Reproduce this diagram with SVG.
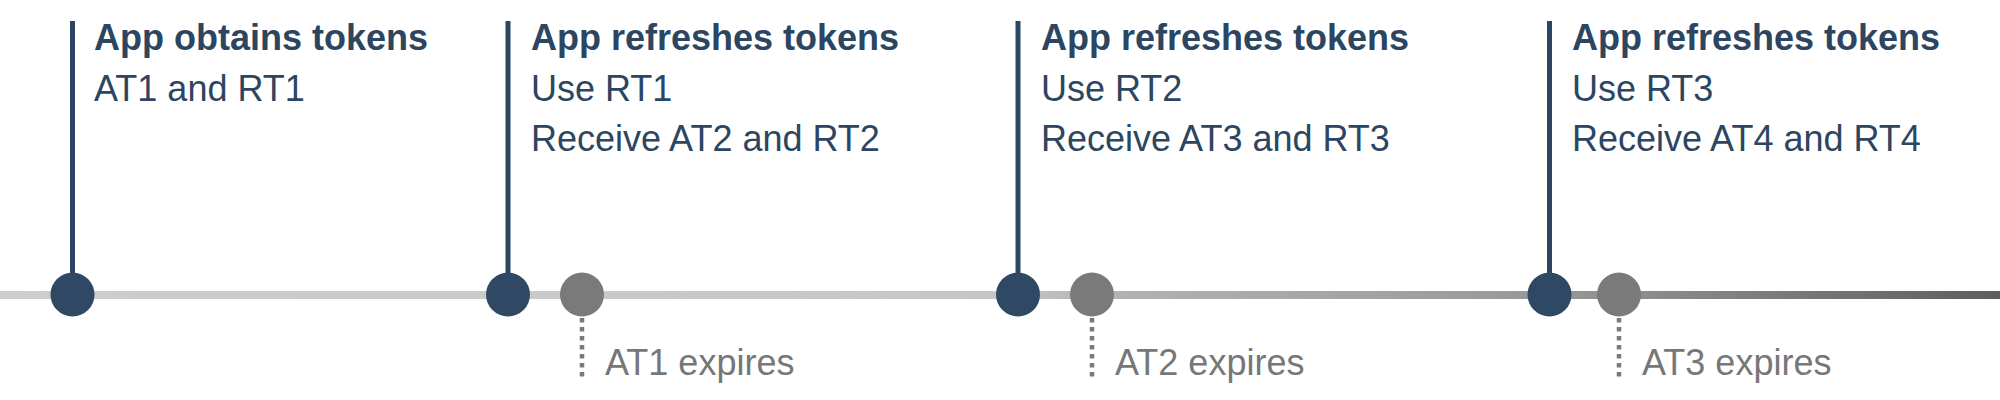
<svg xmlns="http://www.w3.org/2000/svg" width="2000" height="400" viewBox="0 0 2000 400">
  <defs>
    <linearGradient id="axisGrad" x1="0" y1="0" x2="2000" y2="0" gradientUnits="userSpaceOnUse">
      <stop offset="0" stop-color="#cdcdcd"/>
      <stop offset="0.5" stop-color="#c6c6c6"/>
      <stop offset="0.56" stop-color="#b2b2b2"/>
      <stop offset="0.78" stop-color="#979797"/>
      <stop offset="1" stop-color="#5e5e5e"/>
    </linearGradient>
  </defs>
  <style>
    .stem { stroke: #2c4661; stroke-width: 5; fill: none; }
    .dot-dark { fill: #2f4964; }
    .dot-gray { fill: #7a7a7a; }
    .dotted { stroke: #7a7a7a; stroke-width: 4.5; stroke-dasharray: 4.5 4.5; fill: none; }
    .title { font-family: "Liberation Sans", Arial, sans-serif; font-weight: bold; font-size: 36px; fill: #2c4661; }
    .body { font-family: "Liberation Sans", Arial, sans-serif; font-size: 36px; fill: #2c4661; }
    .expire { font-family: "Liberation Sans", Arial, sans-serif; font-size: 36px; fill: #777777; }
  </style>
  <rect width="2000" height="400" fill="#ffffff"/>

  <g id="connectors">
    <line x1="0" y1="295" x2="2000" y2="295" stroke="url(#axisGrad)" stroke-width="8"/>
    <line class="stem" x1="72.5" y1="21" x2="72.5" y2="294"/>
    <line class="stem" x1="508" y1="21" x2="508" y2="294"/>
    <line class="stem" x1="1018" y1="21" x2="1018" y2="294"/>
    <line class="stem" x1="1549.5" y1="21" x2="1549.5" y2="294"/>
    <line class="dotted" x1="582" y1="318" x2="582" y2="377"/>
    <line class="dotted" x1="1092" y1="318" x2="1092" y2="377"/>
    <line class="dotted" x1="1619" y1="318" x2="1619" y2="377"/>
  </g>

  <g id="event-obtain">
    <circle class="dot-dark" cx="72.5" cy="294.5" r="22"/>
    <text class="title" x="94" y="50">App obtains tokens</text>
    <text class="body" x="94" y="100.5">AT1 and RT1</text>
  </g>

  <g id="event-refresh-1">
    <circle class="dot-dark" cx="508" cy="294.5" r="22"/>
    <text class="title" x="531" y="50">App refreshes tokens</text>
    <text class="body" x="531" y="100.5">Use RT1</text>
    <text class="body" x="531" y="151">Receive AT2 and RT2</text>
  </g>

  <g id="expire-1">
    <circle class="dot-gray" cx="582" cy="294.5" r="22"/>
    <text class="expire" x="605" y="375">AT1 expires</text>
  </g>

  <g id="event-refresh-2">
    <circle class="dot-dark" cx="1018" cy="294.5" r="22"/>
    <text class="title" x="1041" y="50">App refreshes tokens</text>
    <text class="body" x="1041" y="100.5">Use RT2</text>
    <text class="body" x="1041" y="151">Receive AT3 and RT3</text>
  </g>

  <g id="expire-2">
    <circle class="dot-gray" cx="1092" cy="294.5" r="22"/>
    <text class="expire" x="1115" y="375">AT2 expires</text>
  </g>

  <g id="event-refresh-3">
    <circle class="dot-dark" cx="1549.5" cy="294.5" r="22"/>
    <text class="title" x="1572" y="50">App refreshes tokens</text>
    <text class="body" x="1572" y="100.5">Use RT3</text>
    <text class="body" x="1572" y="151">Receive AT4 and RT4</text>
  </g>

  <g id="expire-3">
    <circle class="dot-gray" cx="1619" cy="294.5" r="22"/>
    <text class="expire" x="1642" y="375">AT3 expires</text>
  </g>
</svg>
